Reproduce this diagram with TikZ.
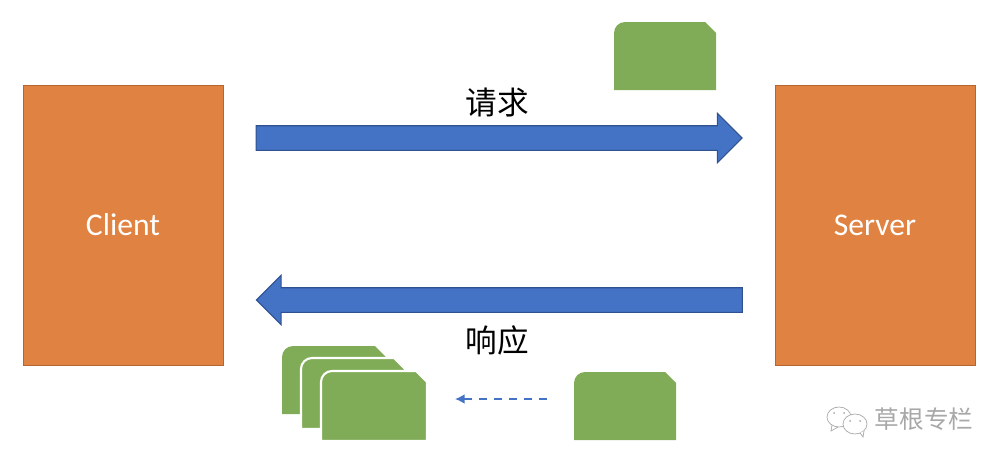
\documentclass[tikz,border=0pt]{standalone}
\usepackage{fontspec}
\setmainfont{Carlito}
\newfontfamily\cjk{Noto Sans CJK SC}
\usetikzlibrary{shapes.arrows,arrows.meta}
\definecolor{boxorange}{HTML}{E08241}
\definecolor{boxedge}{HTML}{B5652F}
\definecolor{arrowblue}{HTML}{4472C4}
\definecolor{arrowedge}{HTML}{2F528F}
\definecolor{pktgreen}{HTML}{81AC57}
\definecolor{markgray}{HTML}{A8A8A8}
\tikzset{
  endbox/.style={draw=boxedge,line width=0.5pt,fill=boxorange,text=white,
    minimum width=4cm,minimum height=5.6cm,font=\fontsize{18}{21}\selectfont},
  bigarrow/.style={single arrow,draw=arrowedge,line width=0.6pt,fill=arrowblue,
    minimum height=9.72cm,minimum width=0.98cm,single arrow head extend=0.25cm,
    single arrow head indent=0pt,inner xsep=0pt,inner ysep=0.235cm,outer sep=0pt},
  cnlabel/.style={font=\cjk\fontsize{18}{21}\selectfont,text=black},
  pkt/.style={fill=pktgreen},
  pktstack/.style={fill=pktgreen,draw=white,line width=1.2pt},
}
% packet: style, left, top, right, bottom
\newcommand{\packet}[5]{
  \path[#1] (#2,#5) -- (#2,#3+11) arc[start angle=180,end angle=270,radius=11]
    -- (#4-11,#3) -- (#4,#3+11) -- (#4,#5) -- cycle;
}
\begin{document}
\begin{tikzpicture}[x=0.02cm,y=-0.02cm]
\useasboundingbox (0,0) rectangle (1006,464);
\node (client) at (123,225) [endbox,text depth=0pt] {Client};
\node (server) at (875,225) [endbox,text depth=0pt] {Server};
\node (reqarrow) at (493,138) [bigarrow] {};
\node (resparrow) at (505.5,300) [bigarrow,shape border rotate=180] {};
\node (reqlabel) at (497,103) [cnlabel] {请求};
\node (resplabel) at (497,340) [cnlabel] {响应};
% packets
\packet{pkt}{614}{22}{716}{90}
\packet{pkt}{282}{346}{386}{414}
\packet{pktstack}{301}{358}{405}{429}
\packet{pktstack}{321}{371}{427}{441}
\packet{pkt}{574}{372}{676}{440}
% dashed arrow between packets
\coordinate (dashfrom) at (547,399);
\coordinate (dashto) at (455,399);
\draw[-{Latex[length=5.5pt,width=5.5pt]},dash pattern=on 4.5pt off 4pt,color=arrowblue,line width=0.8pt] (dashfrom) -- (dashto);
% watermark
\begin{scope}[color=markgray,line width=0.4pt]
\draw (839,417) ellipse[x radius=12,y radius=10];
\draw (832,425) -- (831,431) -- (838,427);
\filldraw[fill=white] (855,424) ellipse[x radius=12,y radius=10];
\draw[fill=white] (860,433) -- (863,437) -- (864,431);
\fill (834,413) circle[radius=1];
\fill (844,413) circle[radius=1];
\fill (850,421) circle[radius=1];
\fill (860,421) circle[radius=1];
\end{scope}
\node (mark) at (924,419) [font=\cjk\fontsize{14}{17}\selectfont,text=markgray] {草根专栏};
\end{tikzpicture}
\end{document}
